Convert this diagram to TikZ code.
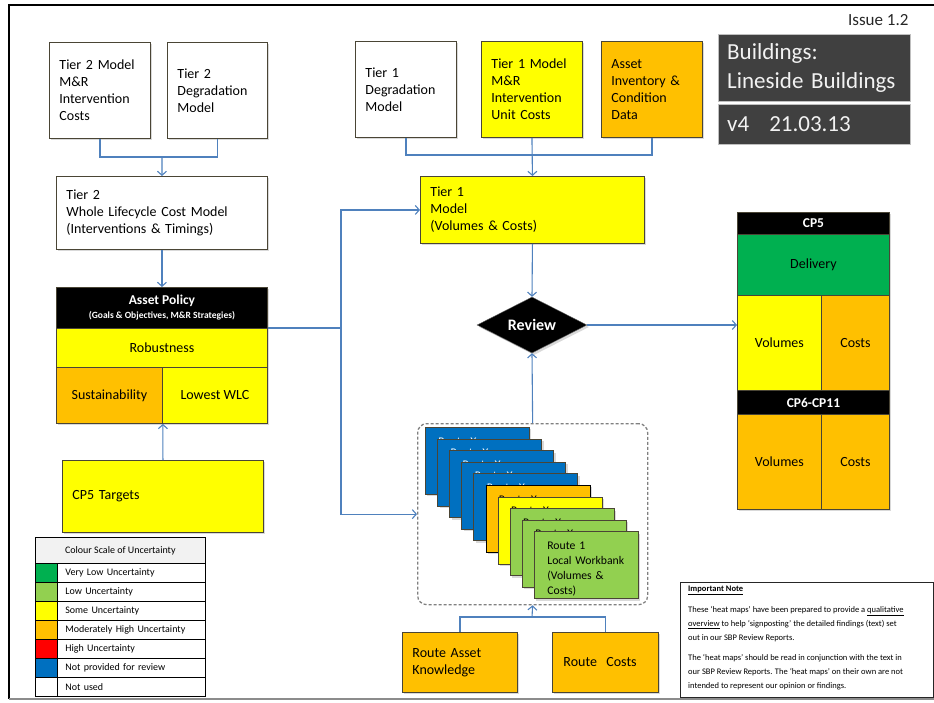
\documentclass[tikz,border=0pt]{standalone}
\usepackage{fontspec}
\setmainfont{Carlito}
\usetikzlibrary{arrows.meta,shapes.geometric,shadows}
\definecolor{edge}{HTML}{4A4535}
\definecolor{flow}{HTML}{4F81BD}
\definecolor{yel}{HTML}{FFFF00}
\definecolor{amber}{HTML}{FFC000}
\definecolor{dgreen}{HTML}{00B050}
\definecolor{lgreen}{HTML}{92D050}
\definecolor{rd}{HTML}{FF0000}
\definecolor{blu}{HTML}{0070C0}
\definecolor{slate}{HTML}{404040}
\tikzset{
  box/.style={draw=edge,line width=.9pt,fill=white,anchor=north west,align=left,inner xsep=10pt,
    font=\fontsize{14}{17}\selectfont,drop shadow={shadow xshift=2pt,shadow yshift=-2pt,opacity=.3}},
  cell/.style={box,align=center,inner sep=0pt},
  bar/.style={cell,fill=black,text=white,font=\bfseries\fontsize{13.5}{15}\selectfont},
  card/.style={box,inner xsep=13pt,inner ysep=2pt,text width=78pt,minimum height=67pt,font=\fontsize{11.7}{15}\selectfont},
  wire/.style={draw=flow,line width=1.1pt},
  link/.style={wire,-{Straight Barb[length=4pt,width=9pt]}},
  key/.style={draw=black,line width=.7pt,anchor=north west,inner sep=0pt,minimum height=19pt,font=\fontsize{10}{12}\selectfont},
  dark/.style={draw=black!25,fill=slate,text=black!5,anchor=north west,align=left,inner xsep=9pt,font=\fontsize{23}{29}\selectfont},
  notetext/.style={anchor=north west,align=left,inner sep=0pt,font=\fontsize{8.5}{14.3}\selectfont},
}
\begin{document}
\begin{tikzpicture}[x=1pt,y=-1pt]
\useasboundingbox (0,0) rectangle (934,702);
% page frame
\draw[line width=2pt] (934,5) -- (9,5) -- (9,699);
\draw[line width=1.2pt,black!45] (9,699) -- (934,699);

% tier 2 side
\node[box,text width=81pt,minimum height=96pt](t2cost)at(49,42){Tier 2 Model\\M\&R\\Intervention\\Costs};
\node[box,text width=80pt,minimum height=96pt](t2deg)at(167,42){Tier 2\\Degradation\\Model};
\node[box,text width=191pt,minimum height=73pt](t2wlc)at(56,176){Tier 2\\Whole Lifecycle Cost Model\\(Interventions \& Timings)};

% asset policy block
\node[bar,minimum width=211pt,minimum height=41pt](pol)at(56,287){Asset Policy\\[-1pt]{\fontsize{9.5}{11}\selectfont(Goals \& Objectives, M\&R Strategies)}};
\node[cell,fill=yel,minimum width=211pt,minimum height=39pt](rob)at(56,328){Robustness};
\node[cell,fill=amber,minimum width=106pt,minimum height=56pt](sus)at(56,367){Sustainability};
\node[cell,fill=yel,minimum width=105pt,minimum height=56pt](wlc)at(162,367){Lowest WLC};
\node[box,fill=yel,text width=181pt,minimum height=72pt](cp5t)at(62,460){CP5 Targets};

% tier 1 side
\node[box,text width=81pt,minimum height=96pt](t1deg)at(355,41){Tier 1\\Degradation\\Model};
\node[box,fill=yel,text width=81pt,minimum height=96pt](t1unit)at(481,41){Tier 1 Model\\M\&R\\Intervention\\Unit Costs};
\node[box,fill=amber,text width=81pt,minimum height=96pt](t1inv)at(601,41){Asset\\Inventory \&\\Condition\\Data};
\node[box,fill=yel,text width=204pt,minimum height=67pt](t1mod)at(420,176){Tier 1\\Model\\(Volumes \& Costs)};
\node[diamond,draw=black!60,fill=black,text=white,aspect=2,minimum width=110pt,minimum height=56pt,inner sep=0pt,
  font=\bfseries\fontsize{16}{18}\selectfont,drop shadow={shadow xshift=2pt,shadow yshift=-2pt,opacity=.3}](rev)at(532,325){Review};

% route workbanks
\node[draw=black!50,dash pattern=on 3pt off 2pt,line width=1.3pt,rounded corners=9pt,anchor=north west,
  minimum width=230pt,minimum height=181pt](stk)at(417,423){};
\foreach \i/\c/\t/\e in {0/blu/white/edge,1/blu/white/edge,2/blu/white/edge,3/blu/white/edge,4/blu/white/edge,
    5/amber/black/black,6/yel/black/edge,7/lgreen/black/edge,8/lgreen/black/edge,9/lgreen/black/edge}{
  \node[card,fill=\c,text=\t,draw=\e](R\i)at({425+12.1*\i},{427+11.6*\i}){\rule{0pt}{15pt}\ifnum\i=9 Route 1\else Route X\fi\\Local Workbank\\(Volumes \&\\Costs)};
}
\node[box,fill=amber,text width=95pt,minimum height=60pt](rak)at(402,632){Route Asset\\Knowledge};
\node[box,fill=amber,inner xsep=11pt,text width=84pt,minimum height=60pt](rcst)at(552,632){Route\ \ Costs};

% delivery column
\node[bar,minimum width=152pt,minimum height=22pt](h5)at(737,212){CP5};
\node[cell,fill=dgreen,minimum width=152pt,minimum height=61pt](dlv)at(737,234){Delivery};
\node[cell,fill=yel,minimum width=84pt,minimum height=95pt](v5)at(737,295){Volumes};
\node[cell,fill=amber,minimum width=68pt,minimum height=95pt](c5)at(821,295){Costs};
\node[bar,minimum width=152pt,minimum height=24pt](h6)at(737,390){CP6-CP11};
\node[cell,fill=amber,minimum width=84pt,minimum height=95pt](v6)at(737,414){Volumes};
\node[cell,fill=amber,minimum width=68pt,minimum height=95pt](c6)at(821,414){Costs};

% connectors
\coordinate(j2)at(162,157);
\draw[wire](t2cost.south)|-(j2)-|(t2deg.south);
\draw[link](j2)--(t2wlc.north);
\draw[link](t2wlc.south)--(pol.north);
\draw[link](cp5t.north)--(sus.south east);
\coordinate(fork)at(341,328);
\draw[wire](rob.north east)--(fork);
\draw[link](fork)|-(t1mod.west);
\draw[link](fork)|-(stk.west);
\coordinate(j1)at(532,155);
\draw[wire](t1deg.south)|-(j1)-|(t1inv.south);
\draw[link](t1unit.south)--(t1mod.north);
\draw[link](t1mod.south)--(rev.north);
\draw[link](stk.north)--(rev.south);
\draw[link](rev.east)--(rev.east-|v5.west);
\coordinate(j3)at(532,617);
\draw[wire](rak.north)|-(j3)-|(rcst.north);
\draw[link](j3)--(stk.south);

% title
\node[anchor=east,text=black!85,font=\fontsize{17}{20}\selectfont](iss)at(912,20){Issue 1.2};
\node[dark,minimum height=67pt,text width=174pt](ttl)at(718,34){Buildings:\\Lineside Buildings};
\node[dark,minimum height=40pt,text width=174pt](ver)at(718,104){v4\hspace{20pt}21.03.13};

% colour key
\node[key,fill=black!5,minimum width=170pt,minimum height=26pt](lg)at(35,537){Colour Scale of Uncertainty};
\foreach \i/\c/\t in {0/dgreen/Very Low Uncertainty,1/lgreen/Low Uncertainty,2/yel/Some Uncertainty,
    3/amber/Moderately High Uncertainty,4/rd/High Uncertainty,5/blu/Not provided for review,6/white/Not used}{
  \node[key,fill=\c,minimum width=22pt](S\i)at(35,{563+19*\i}){};
  \node[key,minimum width=148pt,text width=132pt,inner xsep=8pt,align=left](L\i)at(57,{563+19*\i}){\t};
}

% note
\node[draw=black!85,line width=1.4pt,anchor=north west,minimum width=253pt,minimum height=115pt](note)at(680,582){};
\node[anchor=west,inner sep=0pt,font=\bfseries\fontsize{8.5}{10}\selectfont](nt)at(688,590){\underline{Important Note}};
\node[notetext](np1)at(688,606){These `heat maps' have been prepared to provide a \underline{qualitative}\\
  \underline{overview} to help `signposting' the detailed findings (text) set\\out in our SBP Review Reports.};
\node[notetext](np2)at(688,654){The `heat maps' should be read in conjunction with the text in\\
  our SBP Review Reports. The `heat maps' on their own are not\\intended to represent our opinion or findings.};
\end{tikzpicture}
\end{document}
